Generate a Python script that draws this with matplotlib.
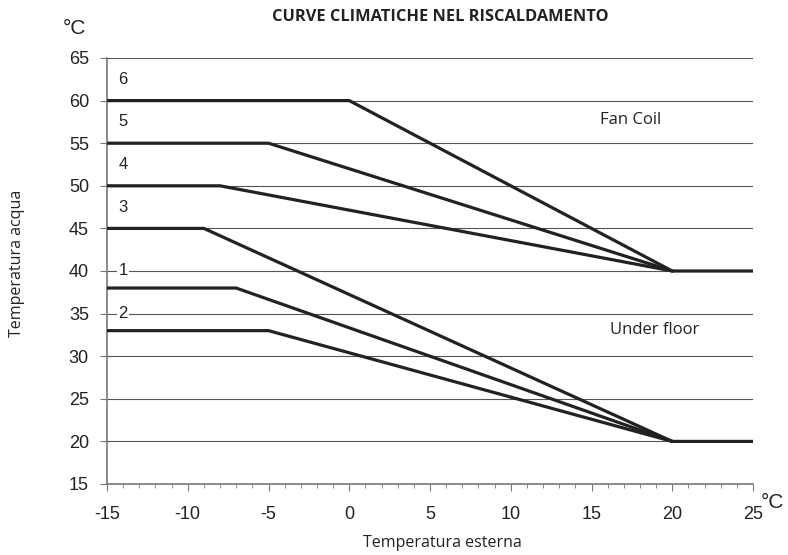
import matplotlib
matplotlib.use("Agg")
import matplotlib.pyplot as plt
from matplotlib.ticker import MultipleLocator

plt.rcParams["font.family"] = ["Liberation Sans", "DejaVu Sans"]
plt.rcParams["axes.unicode_minus"] = False

# Data
curve_names = ["6", "5", "4", "3", "1", "2"]
curve_x = [
    [-15, 0, 20, 25],
    [-15, -5, 20],
    [-15, -8, 20],
    [-15, -9, 20, 25],
    [-15, -7, 20],
    [-15, -5, 20],
]
curve_y = [
    [60, 60, 40, 40],
    [55, 55, 40],
    [50, 50, 40],
    [45, 45, 20, 20],
    [38, 38, 20],
    [33, 33, 20],
]
label_x = [-14, -14, -14, -14, -14, -14]
label_y = [62.5, 57.5, 52.5, 47.5, 40, 35]
x_ticks = [-15, -10, -5, 0, 5, 10, 15, 20, 25]
y_ticks = [15, 20, 25, 30, 35, 40, 45, 50, 55, 60, 65]

fig = plt.figure(figsize=(7.88, 5.55), dpi=100)
ax = fig.add_axes([107/788, 1-484/555, (753-107)/788, (484-58)/555])

ax.set_xlim(-15, 25)
ax.set_ylim(15, 65)

for y in y_ticks[1:]:
    ax.axhline(y, color="#555555", lw=0.8, zorder=1)

for xs, ys in zip(curve_x, curve_y):
    ax.plot(xs, ys, color="#222222", lw=2.3, solid_capstyle="round", zorder=3)

for name, lx, ly in zip(curve_names, label_x, label_y):
    bg = dict(facecolor="white", edgecolor="none", pad=1) if name in ("1", "2") else None
    ax.text(lx, ly, name, fontsize=12, color="#222222",
            ha="center", va="center", bbox=bg, zorder=4)

for s in ["top", "right"]:
    ax.spines[s].set_visible(False)
for s in ["left", "bottom"]:
    ax.spines[s].set_color("#777777")
    ax.spines[s].set_linewidth(1.2)

ax.set_xticks(x_ticks)
ax.set_yticks(y_ticks)
ax.xaxis.set_minor_locator(MultipleLocator(1))
ax.tick_params(axis="both", which="major", length=5, color="#777777", labelsize=13,
               labelcolor="#222222")
ax.tick_params(axis="x", which="major", pad=11)
ax.tick_params(axis="y", which="major", pad=8)
ax.tick_params(axis="x", which="minor", length=3, color="#777777")

fig.text(440/788, 1-17/555, "CURVE CLIMATICHE NEL RISCALDAMENTO", ha="center", va="center",
         fontsize=11.8, fontweight="bold", family="Open Sans", color="#222222")
fig.text(74/788, 1-28/555, "°C", ha="center", va="center", fontsize=15, color="#222222")
fig.text(772/788, 1-503/555, "°C", ha="center", va="center", fontsize=15, color="#222222")
fig.text(17/788, 1-263/555, "Temperatura acqua", rotation=90, ha="center", va="center",
         fontsize=11.5, family="Open Sans", color="#222222")
fig.text(442/788, 1-543/555, "Temperatura esterna", ha="center", va="center",
         fontsize=11.5, family="Open Sans", color="#222222")
ax.text(17.4, 57.7, "Fan Coil", ha="center", va="center", fontsize=12,
        family="Open Sans", color="#222222")
ax.text(18.9, 33.1, "Under floor", ha="center", va="center", fontsize=12,
        family="Open Sans", color="#222222")

fig.savefig("out.png", dpi=100)
